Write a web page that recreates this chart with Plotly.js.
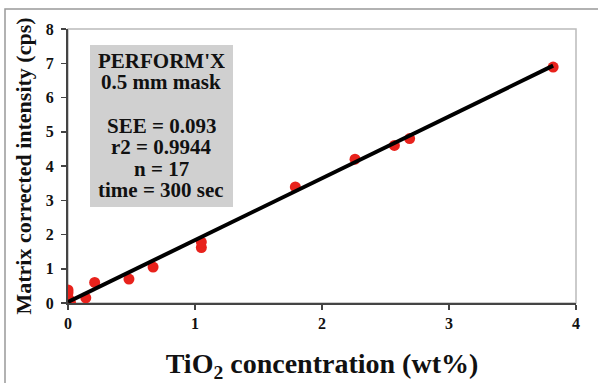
<!DOCTYPE html>
<html>
<head>
<meta charset="utf-8">
<script src="https://cdn.plot.ly/plotly-3.0.1.min.js"></script>
<style>html,body{margin:0;padding:0;background:#fff;}#chart{width:598px;height:383px;}</style>
</head>
<body>
<div id="chart"></div>
<script>
// Measured points (TiO2 wt%, matrix corrected intensity cps)
const tio2 = [0, 0, 0, 0, 0.01, 0.02, 0.14, 0.21, 0.48, 0.67, 1.05, 1.05, 1.79, 2.26, 2.57, 2.69, 3.82];
const intensity = [0.38, 0.3, 0.15, 0.05, 0.1, 0.0, 0.15, 0.6, 0.7, 1.05, 1.62, 1.78, 3.39, 4.2, 4.6, 4.8, 6.89];
// Regression line
const fitX = [0, 3.82];
const fitY = [0.03, 6.93];
// Axis ticks
const xTicks = [0, 1, 2, 3, 4];
const yTicks = [0, 1, 2, 3, 4, 5, 6, 7, 8];
// Text box lines
const boxLines = ["PERFORM'X", "0.5 mm mask", "", "SEE = 0.093", "r2 = 0.9944", "n = 17", "time = 300 sec"];

const serif = "'Liberation Serif', 'Times New Roman', Times, serif";
const W = 598, H = 383;
const m = {l: 68, r: 22, t: 29, b: 80};
const pw = W - m.l - m.r, ph = H - m.t - m.b;
function px2x(p) { return (p - m.l) / pw; }
function py2y(p) { return (H - m.b - p) / ph; }

const annotations = [];
const lineBase0 = 66.7, lineStep = 21.6;
boxLines.forEach((t, i) => {
  if (!t) return;
  annotations.push({
    xref: 'paper', yref: 'paper', x: px2x(161), y: py2y(lineBase0 + i * lineStep - 6),
    xanchor: 'center', yanchor: 'middle', showarrow: false, height: 20,
    text: '<b>' + t + '</b>', font: {family: serif, size: 21, color: '#111'}
  });
});

const data = [
  {x: tio2, y: intensity, type: 'scatter', mode: 'markers',
   marker: {color: '#e8221c', size: 11}, hoverinfo: 'x+y'},
  {x: fitX, y: fitY, type: 'scatter', mode: 'lines',
   line: {color: '#000', width: 4}, hoverinfo: 'none'}
];

const layout = {
  width: W, height: H,
  margin: m,
  paper_bgcolor: '#fff', plot_bgcolor: '#fff',
  showlegend: false,
  font: {family: serif, color: '#111'},
  xaxis: {
    range: [0, 4], tickvals: xTicks, ticktext: xTicks.map(v => '<b>' + v + '</b>'),
    showgrid: false, zeroline: false, showline: true, linecolor: '#444', linewidth: 2,
    ticks: 'outside', ticklen: 5, tickcolor: '#444', tickwidth: 1.5,
    tickfont: {family: serif, size: 16, color: '#111'},
    title: {text: '<b>TiO<sub>2</sub> concentration (wt%)</b>', standoff: 29,
            font: {family: serif, size: 28, color: '#111'}},
    automargin: false, fixedrange: true
  },
  yaxis: {
    range: [0, 8], tickvals: yTicks, ticktext: yTicks.map(v => '<b>' + v + '</b>'),
    showgrid: false, zeroline: false, showline: true, linecolor: '#444', linewidth: 2,
    ticks: 'outside', ticklen: 5, tickcolor: '#444', tickwidth: 1.5, ticklabelstandoff: 4,
    tickfont: {family: serif, size: 16, color: '#111'},
    title: {text: '<b>Matrix corrected intensity (cps)</b>', standoff: 8,
            font: {family: serif, size: 22, color: '#111'}},
    automargin: false, fixedrange: true
  },
  shapes: [
    {type: 'rect', xref: 'paper', yref: 'paper', x0: px2x(5), x1: px2x(640), y0: py2y(420), y1: py2y(9),
     line: {color: '#999', width: 1.5}, fillcolor: 'rgba(0,0,0,0)', layer: 'below'},
    {type: 'rect', xref: 'paper', yref: 'paper', x0: 0, x1: 1, y0: 0, y1: 1,
     line: {color: '#bbb', width: 1.5}, fillcolor: 'rgba(0,0,0,0)', layer: 'below'},
    {type: 'rect', xref: 'paper', yref: 'paper', x0: px2x(90), x1: px2x(233), y0: py2y(207), y1: py2y(45),
     line: {width: 0}, fillcolor: '#d0d0d0', layer: 'below'}
  ],
  annotations: annotations
};

Plotly.newPlot('chart', data, layout, {displayModeBar: false, staticPlot: true});
</script>
</body>
</html>
